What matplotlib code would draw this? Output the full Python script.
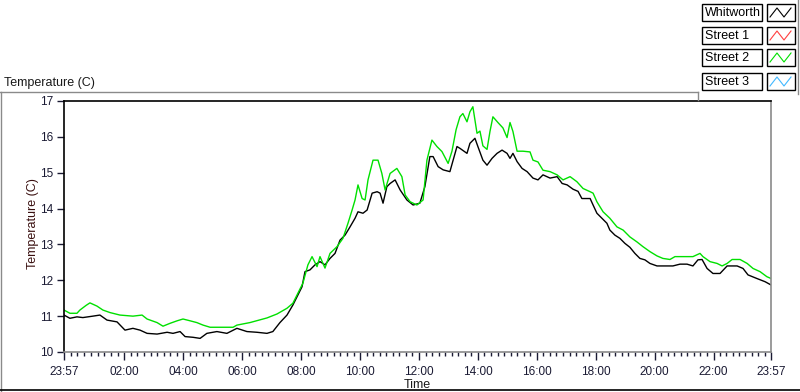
import numpy as np
import matplotlib.pyplot as plt
from matplotlib.patches import Rectangle
from matplotlib.lines import Line2D

W, H = 800, 392

# hours elapsed since 23:57 (start of the record)
whit_h = [0.00, 0.20, 0.44, 0.64, 0.98, 1.22, 1.46, 1.80, 2.07, 2.34, 2.58, 2.82,
          3.16, 3.50, 3.70, 3.94, 4.11, 4.38, 4.62, 4.85, 5.19, 5.53, 5.87, 6.21,
          6.55, 6.89, 7.09, 7.33, 7.57, 7.77, 7.91, 8.08, 8.18, 8.35, 8.52, 8.69,
          8.86, 9.03, 9.20, 9.37, 9.54, 9.71, 9.88, 9.98, 10.15, 10.29, 10.46, 10.63,
          10.73, 10.83, 10.96, 11.07, 11.24, 11.41, 11.64, 11.85, 12.08, 12.25, 12.42, 12.53,
          12.70, 12.87, 13.10, 13.34, 13.44, 13.68, 13.78, 13.95, 14.05, 14.22, 14.36, 14.53,
          14.70, 14.87, 15.04, 15.14, 15.24, 15.38, 15.55, 15.72, 15.92, 16.09, 16.26, 16.50,
          16.74, 16.91, 17.08, 17.28, 17.45, 17.58, 17.86, 17.96, 18.09, 18.26, 18.43, 18.53,
          18.70, 18.87, 19.04, 19.21, 19.38, 19.55, 19.72, 19.89, 20.13, 20.47, 20.67, 20.91,
          21.15, 21.35, 21.52, 21.66, 21.83, 22.03, 22.27, 22.51, 22.85, 23.05, 23.22, 23.52,
          23.80, 24.00]
whit_t = [11.03, 10.94, 10.98, 10.96, 11.00, 11.03, 10.89, 10.84, 10.61, 10.66, 10.61, 10.52,
          10.50, 10.55, 10.52, 10.57, 10.43, 10.41, 10.38, 10.52, 10.57, 10.52, 10.66, 10.57,
          10.55, 10.52, 10.57, 10.82, 11.03, 11.31, 11.54, 11.82, 12.24, 12.29, 12.43, 12.52,
          12.43, 12.61, 12.75, 13.12, 13.26, 13.49, 13.73, 13.91, 13.87, 13.96, 14.43, 14.47,
          14.43, 14.15, 14.61, 14.70, 14.80, 14.52, 14.24, 14.10, 14.15, 14.61, 15.45, 15.45,
          15.17, 15.08, 15.03, 15.73, 15.68, 15.54, 15.82, 15.96, 15.73, 15.35, 15.21, 15.40,
          15.54, 15.63, 15.54, 15.40, 15.54, 15.31, 15.12, 15.03, 14.85, 14.80, 14.94, 14.85,
          14.89, 14.70, 14.66, 14.54, 14.48, 14.28, 14.28, 14.10, 13.87, 13.73, 13.59, 13.40,
          13.26, 13.17, 13.03, 12.92, 12.75, 12.61, 12.57, 12.47, 12.40, 12.40, 12.40, 12.45,
          12.45, 12.40, 12.57, 12.58, 12.33, 12.19, 12.19, 12.40, 12.40, 12.33, 12.15, 12.05,
          11.96, 11.87]

st2_h = [0.00, 0.20, 0.44, 0.54, 0.75, 0.88, 1.12, 1.32, 1.56, 1.90, 2.34, 2.65,
         2.82, 3.16, 3.36, 3.60, 3.84, 4.04, 4.28, 4.51, 4.72, 4.96, 5.74, 5.87,
         6.31, 6.89, 7.23, 7.57, 7.77, 8.11, 8.28, 8.42, 8.59, 8.69, 8.86, 9.03,
         9.27, 9.47, 9.64, 9.78, 9.88, 9.98, 10.12, 10.22, 10.32, 10.49, 10.66, 10.79,
         10.90, 11.07, 11.30, 11.47, 11.58, 11.75, 11.98, 12.19, 12.32, 12.49, 12.66, 12.83,
         13.04, 13.17, 13.31, 13.44, 13.54, 13.68, 13.78, 13.88, 14.02, 14.12, 14.22, 14.36,
         14.46, 14.56, 14.73, 14.90, 15.04, 15.14, 15.24, 15.38, 15.58, 15.82, 15.92, 16.09,
         16.26, 16.50, 16.74, 16.94, 17.18, 17.41, 17.62, 17.86, 17.96, 18.09, 18.30, 18.53,
         18.77, 18.98, 19.21, 19.45, 19.65, 19.89, 20.13, 20.33, 20.57, 20.74, 21.35, 21.59,
         21.69, 21.93, 22.17, 22.34, 22.51, 22.68, 22.95, 23.19, 23.39, 23.63, 23.86, 24.00]
st2_t = [11.17, 11.08, 11.08, 11.17, 11.30, 11.37, 11.28, 11.17, 11.10, 11.03, 11.00, 11.03,
         10.92, 10.82, 10.72, 10.80, 10.87, 10.92, 10.87, 10.82, 10.75, 10.69, 10.69, 10.75,
         10.82, 10.95, 11.06, 11.22, 11.36, 11.92, 12.43, 12.66, 12.38, 12.66, 12.34, 12.75,
         12.94, 13.17, 13.59, 13.96, 14.24, 14.66, 14.28, 14.24, 14.80, 15.35, 15.35, 14.98,
         14.52, 14.98, 15.12, 14.89, 14.38, 14.19, 14.10, 14.24, 15.35, 15.91, 15.73, 15.59,
         15.26, 15.60, 16.20, 16.56, 16.65, 16.42, 16.70, 16.84, 16.10, 16.16, 15.75, 15.65,
         16.15, 16.56, 16.40, 16.25, 15.98, 16.40, 16.15, 15.60, 15.60, 15.58, 15.35, 15.30,
         15.07, 15.03, 14.94, 14.80, 14.89, 14.75, 14.56, 14.47, 14.43, 14.19, 13.91, 13.73,
         13.49, 13.40, 13.21, 13.07, 12.94, 12.80, 12.68, 12.61, 12.58, 12.66, 12.66, 12.75,
         12.66, 12.52, 12.47, 12.40, 12.47, 12.58, 12.58, 12.47, 12.33, 12.24, 12.10, 12.05]

legend_names = ['Whitworth', 'Street 1', 'Street 2', 'Street 3']
legend_colors = ['#000000', '#ff4040', '#00e000', '#40b8ff']

major_pos = [0, 2.05, 4.05, 6.05, 8.05, 10.05, 12.05, 14.05, 16.05, 18.05, 20.05, 22.05, 24]
major_lab = ['23:57', '02:00', '04:00', '06:00', '08:00', '10:00', '12:00', '14:00',
             '16:00', '18:00', '20:00', '22:00', '23:57']
y_ticks = [10, 11, 12, 13, 14, 15, 16, 17]

plt.rcParams['font.family'] = ['Liberation Sans', 'DejaVu Sans']

fig = plt.figure(figsize=(W / 100, H / 100), dpi=100)
fig.patch.set_facecolor('white')

def fx(x):
    return x / W

def fy(y):
    return 1 - y / H

ax = fig.add_axes([fx(64), fy(352), (771 - 64) / W, (352 - 101) / H])
ax.plot(whit_h, whit_t, color='black', lw=1.0)
ax.plot(st2_h, st2_t, color='#00e000', lw=1.0)
ax.set_xlim(0, 24)
ax.set_ylim(10, 17)

ax.set_xticks(major_pos)
ax.set_xticklabels(major_lab)
minor = []
for a, b in zip(major_pos[:-1], major_pos[1:]):
    minor += list(np.linspace(a, b, 10)[1:-1])
ax.set_xticks(minor, minor=True)
ax.set_yticks(y_ticks)
ax.tick_params(axis='x', which='major', length=6, width=1, pad=4, labelsize=8.5, colors='#1a1a33')
ax.tick_params(axis='x', which='minor', length=3, width=1, color='#1a1a33')
ax.tick_params(axis='y', length=5, width=1, pad=3, labelsize=8.5, colors='#1a1a33')

ax.spines['left'].set_color('black')
ax.spines['top'].set_color('black')
ax.spines['right'].set_color('#8a8a8a')
ax.spines['bottom'].set_color('#8a8a8a')
for s in ax.spines.values():
    s.set_linewidth(1.2)

fig.text(fx(33), fy(224), 'Temperature (C)', rotation=90, ha='center', va='center',
         fontsize=9, color='#3a1010')
fig.text(fx(417), fy(385), 'Time', ha='center', va='center', fontsize=9, color='#1a1a1a')
fig.text(fx(4), fy(83), 'Temperature (C)', ha='left', va='center', fontsize=9, color='#1a1a1a')

# panel frame lines
def fline(xs, ys, color, lw=1.0):
    fig.add_artist(Line2D([fx(v) for v in xs], [fy(v) for v in ys], color=color, lw=lw,
                          transform=fig.transFigure))

fline([0, 698], [92, 92], '#8a8a8a')
fline([698, 698], [92, 100], '#8a8a8a')
fline([1, 1], [92, 392], '#8a8a8a')
fline([0, 800], [390, 390], 'black', 1.2)
fline([798, 798], [0, 94], '#8a8a8a')

# legend
row_top = [4, 27, 49, 73]
for name, col, top in zip(legend_names, legend_colors, row_top):
    fig.add_artist(Rectangle((fx(702), fy(top + 17)), 60 / W, 17 / H, transform=fig.transFigure,
                             facecolor='white', edgecolor='black', lw=1))
    fig.text(fx(705), fy(top + 9), name, ha='left', va='center', fontsize=9, color='black')
    fig.add_artist(Rectangle((fx(767), fy(top + 17)), 28 / W, 17 / H, transform=fig.transFigure,
                             facecolor='white', edgecolor='black', lw=1))
    zx = [770, 777, 784, 791]
    zy = [top + 13, top + 4, top + 13, top + 4]
    fig.add_artist(Line2D([fx(v) for v in zx], [fy(v) for v in zy], color=col, lw=0.8,
                          transform=fig.transFigure))

fig.savefig('out.png', dpi=100, facecolor='white')
